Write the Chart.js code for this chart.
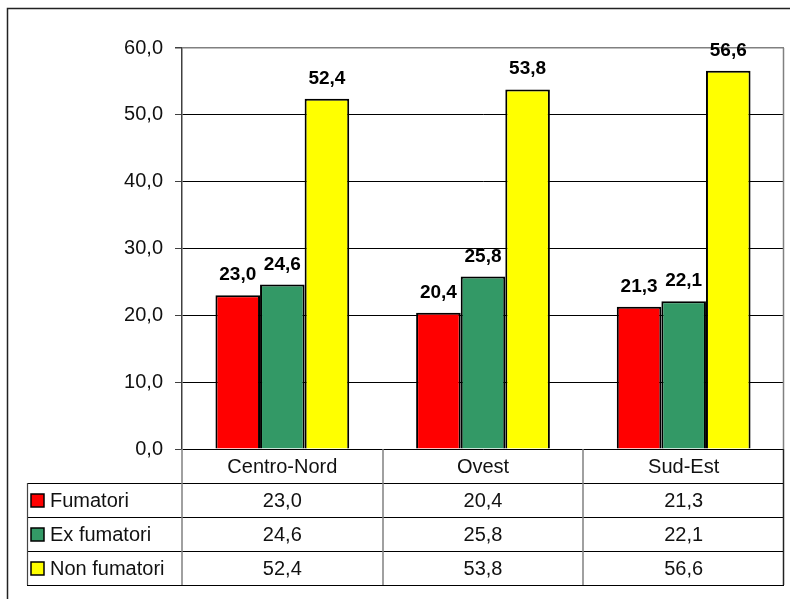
<!DOCTYPE html>
<html>
<head>
<meta charset="utf-8">
<script src="https://cdn.jsdelivr.net/npm/chart.js@4/dist/chart.umd.min.js"></script>
<style>
  html, body { margin: 0; padding: 0; background: #fff; }
  #wrap { width: 790px; height: 599px; }
</style>
</head>
<body>
<div id="wrap"><canvas id="c" width="790" height="599"></canvas></div>
<script>
// Smoking status by area (percentages)
const categories = ['Centro-Nord', 'Ovest', 'Sud-Est'];
const seriesNames = ['Fumatori', 'Ex fumatori', 'Non fumatori'];
const fumatori = [23.0, 20.4, 21.3];
const exFumatori = [24.6, 25.8, 22.1];
const nonFumatori = [52.4, 53.8, 56.6];
const yTicks = [0, 10, 20, 30, 40, 50, 60];

const seriesValues = [fumatori, exFumatori, nonFumatori];
const seriesColors = ['#FF0000', '#339966', '#FFFF00'];
const FONT = "'Liberation Sans', Arial, sans-serif";

const fmt = v => Number(v).toFixed(1).replace('.', ',');

// Outer frame and plot-area edge
const framePlugin = {
  id: 'frame',
  beforeDraw(chart) {
    const ctx = chart.ctx;
    ctx.save();
    ctx.fillStyle = '#fff';
    ctx.fillRect(0, 0, chart.width, chart.height);
    ctx.strokeStyle = '#222';
    ctx.lineWidth = 1.5;
    ctx.beginPath();
    ctx.moveTo(7.5, chart.height + 5);
    ctx.lineTo(7.5, 8.5);
    ctx.lineTo(chart.width + 5, 8.5);
    ctx.stroke();
    ctx.restore();
  },
  afterDatasetsDraw(chart) {
    const ctx = chart.ctx;
    const a = chart.chartArea;
    ctx.save();
    ctx.strokeStyle = '#808080';
    ctx.lineWidth = 1.5;
    ctx.beginPath();
    ctx.moveTo(a.right - 0.5, a.top);
    ctx.lineTo(a.right - 0.5, a.bottom);
    ctx.stroke();
    ctx.restore();
  }
};

// Value labels above each bar
const valueLabels = {
  id: 'valueLabels',
  afterDatasetsDraw(chart) {
    const ctx = chart.ctx;
    ctx.save();
    ctx.font = 'bold 19px ' + FONT;
    ctx.fillStyle = '#000';
    ctx.textAlign = 'center';
    ctx.textBaseline = 'alphabetic';
    chart.data.datasets.forEach((ds, di) => {
      const meta = chart.getDatasetMeta(di);
      meta.data.forEach((el, i) => {
        ctx.fillText(fmt(ds.data[i]), el.x, el.y - 15);
      });
    });
    ctx.restore();
  }
};

// Data table under the plot: category header row + one row per series with its key
const dataTable = {
  id: 'dataTable',
  afterDraw(chart) {
    const ctx = chart.ctx;
    const a = chart.chartArea;
    const xs = chart.scales.x;
    const n = categories.length;
    const colW = (a.right - a.left) / n;
    const top = a.bottom;
    const headH = 34;
    const rowH = 34;
    const legendLeft = 27;
    const rowsTop = top + headH;
    const bottom = rowsTop + rowH * seriesNames.length;

    ctx.save();
    // horizontal rules
    ctx.strokeStyle = '#000';
    ctx.lineWidth = 1.2;
    for (let r = 0; r <= seriesNames.length; r++) {
      const y = Math.round(rowsTop + r * rowH) + 0.5;
      ctx.beginPath();
      ctx.moveTo(legendLeft, y);
      ctx.lineTo(a.right, y);
      ctx.stroke();
    }
    // left edge of key column
    ctx.strokeStyle = '#444';
    ctx.beginPath();
    ctx.moveTo(legendLeft + 0.5, rowsTop);
    ctx.lineTo(legendLeft + 0.5, bottom);
    ctx.stroke();
    // category dividers
    ctx.strokeStyle = '#808080';
    ctx.lineWidth = 1.5;
    for (let i = 0; i < n; i++) {
      const x = Math.round(a.left + i * colW);
      ctx.beginPath();
      ctx.moveTo(x, top);
      ctx.lineTo(x, bottom);
      ctx.stroke();
    }
    ctx.strokeStyle = '#222';
    ctx.beginPath();
    ctx.moveTo(a.right - 0.5, top);
    ctx.lineTo(a.right - 0.5, bottom);
    ctx.stroke();

    // header texts
    ctx.fillStyle = '#111';
    ctx.font = '20px ' + FONT;
    ctx.textAlign = 'center';
    ctx.textBaseline = 'middle';
    categories.forEach((c, i) => {
      ctx.fillText(c, xs.getPixelForValue(i), top + headH / 2 + 1);
    });
    // rows
    seriesNames.forEach((name, r) => {
      const cy = rowsTop + r * rowH + rowH / 2 + 1;
      // key square
      ctx.fillStyle = seriesColors[r];
      ctx.fillRect(31, cy - 7, 13, 13);
      ctx.strokeStyle = '#000';
      ctx.lineWidth = 1.5;
      ctx.strokeRect(31, cy - 7, 13, 13);
      ctx.fillStyle = '#111';
      ctx.textAlign = 'left';
      ctx.fillText(name, 50, cy);
      ctx.textAlign = 'center';
      seriesValues[r].forEach((v, i) => {
        ctx.fillText(fmt(v), xs.getPixelForValue(i), cy);
      });
    });
    ctx.restore();
  }
};

new Chart(document.getElementById('c'), {
  type: 'bar',
  data: {
    labels: categories,
    datasets: seriesNames.map((name, i) => ({
      label: name,
      data: seriesValues[i],
      backgroundColor: seriesColors[i],
      borderColor: '#000',
      borderWidth: 2,
      categoryPercentage: 3 / 4.5,
      barPercentage: 1.0
    }))
  },
  options: {
    responsive: false,
    animation: false,
    devicePixelRatio: 1,
    layout: { padding: { left: 0, right: 6, top: 48, bottom: 150 } },
    plugins: {
      legend: { display: false },
      tooltip: { enabled: false },
      title: { display: false }
    },
    scales: {
      x: { display: false },
      y: {
        min: 0,
        max: 60,
        afterFit(scale) { scale.width = 182; },
        afterBuildTicks(scale) { scale.ticks = yTicks.map(v => ({ value: v })); },
        ticks: {
          padding: 12,
          color: '#111',
          font: { family: FONT, size: 20 },
          callback: v => fmt(v)
        },
        grid: {
          color: ctx => (ctx.tick && ctx.tick.value === 60 ? '#808080' : '#000'),
          lineWidth: ctx => (ctx.tick && ctx.tick.value === 60 ? 1.5 : 1),
          tickColor: '#404040',
          tickLength: 7,
          drawTicks: true
        },
        border: { display: true, color: '#404040', width: 1.5 }
      }
    }
  },
  plugins: [framePlugin, valueLabels, dataTable]
});
</script>
</body>
</html>
